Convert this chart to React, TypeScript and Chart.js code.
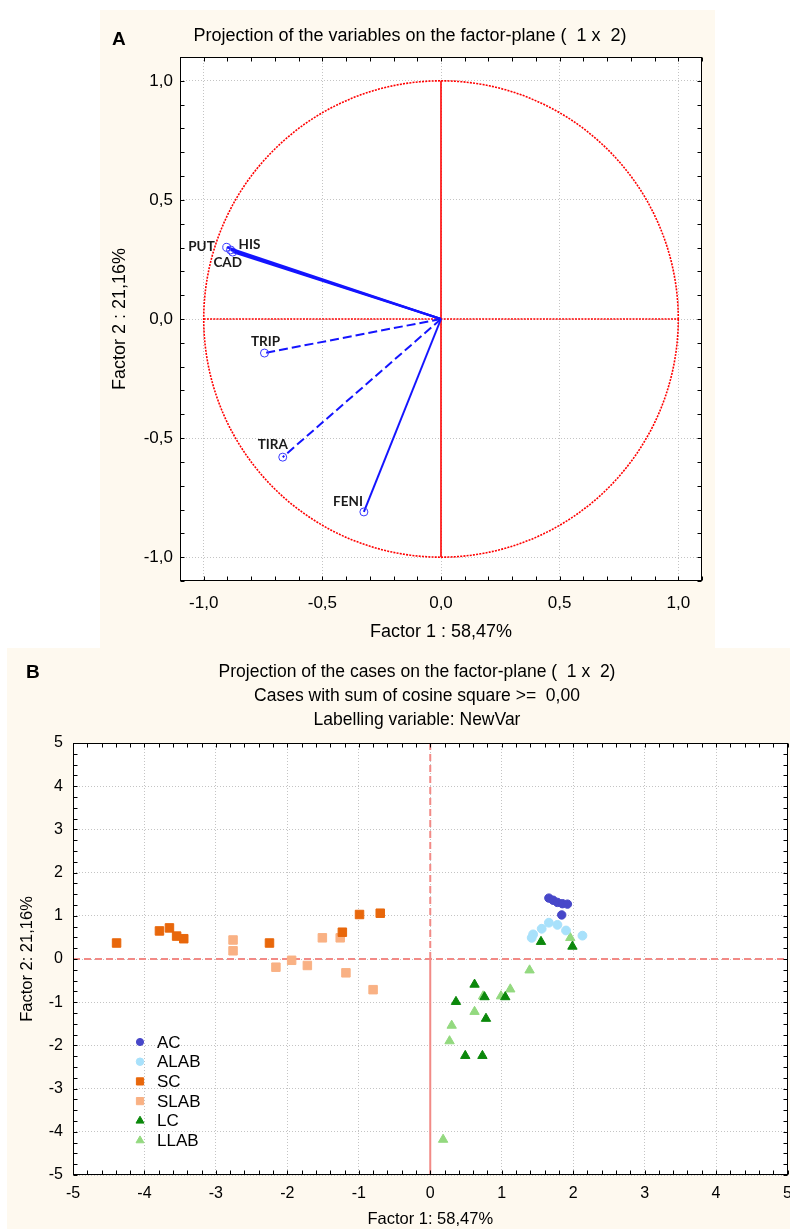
import React, { useEffect, useRef } from 'react';
import { Chart, registerables } from 'chart.js';
import { drawPoint } from 'chart.js/helpers';

Chart.register(...registerables);

// ---------- Panel A data: variable loadings ----------
const VAR_LABELS = ['PUT', 'HIS', 'CAD', 'TRIP', 'TIRA', 'FENI'];
const VAR_FACTOR1 = [-0.903, -0.887, -0.878, -0.744, -0.667, -0.325];
const VAR_FACTOR2 = [0.301, 0.29, 0.281, -0.143, -0.58, -0.81];
const VAR_DASHED = [false, false, false, true, true, false];
const A_TICKS = [-1.0, -0.5, 0.0, 0.5, 1.0];

// ---------- Panel B data: cases ----------
const GROUP_LABELS = ['AC', 'ALAB', 'SC', 'SLAB', 'LC', 'LLAB'];
const AC_F1 = [1.66, 1.72, 1.78, 1.85, 1.92, 1.84];
const AC_F2 = [1.41, 1.36, 1.31, 1.28, 1.27, 1.02];
const ALAB_F1 = [1.66, 1.78, 1.56, 1.9, 1.44, 1.42, 2.13];
const ALAB_F2 = [0.84, 0.79, 0.7, 0.66, 0.57, 0.49, 0.54];
const SC_F1 = [-4.39, -3.79, -3.65, -3.55, -3.45, -2.25, -1.23, -0.99, -0.7];
const SC_F2 = [0.37, 0.65, 0.72, 0.53, 0.47, 0.37, 0.62, 1.03, 1.06];
const SLAB_F1 = [-2.76, -2.76, -2.16, -1.94, -1.72, -1.51, -1.26, -1.18, -0.8];
const SLAB_F2 = [0.44, 0.19, -0.19, -0.03, -0.15, 0.49, 0.49, -0.32, -0.71];
const LC_F1 = [1.55, 1.99, 0.62, 0.36, 0.76, 1.05, 0.78, 0.49, 0.73];
const LC_F2 = [0.4, 0.29, -0.59, -0.99, -0.88, -0.88, -1.38, -2.24, -2.24];
const LLAB_F1 = [1.96, 1.39, 1.12, 0.74, 0.99, 0.62, 0.3, 0.27, 0.18];
const LLAB_F2 = [0.49, -0.26, -0.7, -0.86, -0.86, -1.22, -1.54, -1.9, -4.18];
const B_TICKS = [-5, -4, -3, -2, -1, 0, 1, 2, 3, 4, 5];

const GROUP_F1 = [AC_F1, ALAB_F1, SC_F1, SLAB_F1, LC_F1, LLAB_F1];
const GROUP_F2 = [AC_F2, ALAB_F2, SC_F2, SLAB_F2, LC_F2, LLAB_F2];

// ---------- styles ----------
const FONT = "'Liberation Sans', Arial, sans-serif";
const CREAM = '#fef9ef';
const GROUP_STYLES = [
  { style: 'circle', color: '#4747c9', radius: 4.2 },
  { style: 'circle', color: '#a8e1fb', radius: 4.4 },
  { style: 'rect', color: '#e8670b', radius: 6 },
  { style: 'rect', color: '#f9b184', radius: 6 },
  { style: 'triangle', color: '#0b880b', radius: 5.4 },
  { style: 'triangle', color: '#93d97f', radius: 5.4 },
];
// label offsets (px) relative to the vector end point, with text alignment
const VAR_LABEL_POS: [number, number, CanvasTextAlign][] = [
  [-12, -1, 'right'],
  [8, -5, 'left'],
  [-5, 11, 'center'],
  [1, -11, 'center'],
  [-10, -13, 'center'],
  [-1, -10, 'right'],
];

const fmtA = (v: number) => Number(v).toFixed(1).replace('.', ',');

function fillArea(chart: any) {
  const { ctx, chartArea: ca } = chart;
  ctx.save();
  ctx.fillStyle = '#ffffff';
  ctx.fillRect(ca.left, ca.top, ca.right - ca.left, ca.bottom - ca.top);
  ctx.restore();
}

function drawFrameTicks(chart: any, xStep: number, yStep: number, len: number) {
  const { ctx, chartArea: ca, scales } = chart;
  const x = scales.x;
  const y = scales.y;
  ctx.save();
  ctx.strokeStyle = '#000';
  ctx.lineWidth = 1;
  ctx.setLineDash([]);
  const l = Math.round(ca.left) + 0.5;
  const r = Math.round(ca.right) - 0.5;
  const t = Math.round(ca.top) + 0.5;
  const b = Math.round(ca.bottom) - 0.5;
  ctx.strokeRect(l, t, r - l, b - t);
  ctx.beginPath();
  const nx = Math.round((x.max - x.min) / xStep);
  for (let i = 0; i <= nx; i++) {
    const px = Math.round(x.getPixelForValue(x.min + i * xStep)) + 0.5;
    ctx.moveTo(px, t);
    ctx.lineTo(px, t + len);
    ctx.moveTo(px, b);
    ctx.lineTo(px, b - len);
  }
  const ny = Math.round((y.max - y.min) / yStep);
  for (let i = 0; i <= ny; i++) {
    const py = Math.round(y.getPixelForValue(y.min + i * yStep)) + 0.5;
    ctx.moveTo(l, py);
    ctx.lineTo(l + len, py);
    ctx.moveTo(r, py);
    ctx.lineTo(r - len, py);
  }
  ctx.stroke();
  ctx.restore();
}

const panelAPlugin = {
  id: 'panelA',
  beforeDraw(chart: any) {
    fillArea(chart);
  },
  beforeDatasetsDraw(chart: any) {
    const { ctx, scales } = chart;
    const x = scales.x;
    const y = scales.y;
    const cx = x.getPixelForValue(0);
    const cy = y.getPixelForValue(0);
    const rx = x.getPixelForValue(1) - cx;
    const ry = cy - y.getPixelForValue(1);
    ctx.save();
    ctx.strokeStyle = '#ff0000';
    ctx.lineWidth = 1.6;
    ctx.setLineDash([2, 1.2]);
    ctx.beginPath();
    ctx.ellipse(cx, cy, rx, ry, 0, 0, Math.PI * 2);
    ctx.stroke();
    ctx.beginPath();
    ctx.moveTo(x.getPixelForValue(-1), cy);
    ctx.lineTo(x.getPixelForValue(1), cy);
    ctx.stroke();
    ctx.setLineDash([]);
    ctx.beginPath();
    ctx.moveTo(cx, y.getPixelForValue(1));
    ctx.lineTo(cx, y.getPixelForValue(-1));
    ctx.stroke();
    ctx.restore();
  },
  afterDraw(chart: any) {
    const { ctx, scales } = chart;
    drawFrameTicks(chart, 0.1, 0.1, 4);
    ctx.save();
    ctx.fillStyle = '#1a1a1a';
    ctx.font = "bold 13.5px Lato, 'Open Sans', sans-serif";
    ctx.textBaseline = 'middle';
    VAR_LABELS.forEach((name, i) => {
      const px = scales.x.getPixelForValue(VAR_FACTOR1[i]);
      const py = scales.y.getPixelForValue(VAR_FACTOR2[i]);
      const [dx, dy, al] = VAR_LABEL_POS[i];
      ctx.textAlign = al;
      ctx.fillText(name, px + dx, py + dy);
    });
    ctx.fillStyle = '#000';
    ctx.textAlign = 'center';
    ctx.font = `18px ${FONT}`;
    ctx.fillText('Projection of the variables on the factor-plane (  1 x  2)', 310, 26);
    ctx.textAlign = 'left';
    ctx.font = `bold 19px ${FONT}`;
    ctx.fillText('A', 12, 30);
    ctx.restore();
  },
};

const panelBPlugin = {
  id: 'panelB',
  beforeDraw(chart: any) {
    fillArea(chart);
  },
  beforeDatasetsDraw(chart: any) {
    const { ctx, chartArea: ca, scales } = chart;
    const cx = scales.x.getPixelForValue(0);
    const cy = scales.y.getPixelForValue(0);
    ctx.save();
    ctx.strokeStyle = '#f28a86';
    ctx.lineWidth = 2;
    ctx.setLineDash([7, 4]);
    ctx.beginPath();
    ctx.moveTo(ca.left, cy);
    ctx.lineTo(ca.right, cy);
    ctx.stroke();
    ctx.beginPath();
    ctx.moveTo(cx, ca.top);
    ctx.lineTo(cx, cy);
    ctx.stroke();
    ctx.setLineDash([]);
    ctx.beginPath();
    ctx.moveTo(cx, cy);
    ctx.lineTo(cx, ca.bottom);
    ctx.stroke();
    ctx.restore();
  },
  afterDraw(chart: any) {
    const { ctx, chartArea: ca } = chart;
    drawFrameTicks(chart, 0.2, 0.25, 4);
    ctx.save();
    // legend
    const lx = ca.left + 67;
    const ly = 394;
    chart.data.datasets.forEach((ds: any, i: number) => {
      const st = GROUP_STYLES[i];
      const yy = ly + i * 19.7;
      ctx.fillStyle = st.color;
      ctx.strokeStyle = st.color;
      ctx.lineWidth = 1;
      drawPoint(ctx, { pointStyle: st.style, radius: st.radius * 0.85, rotation: 0, borderWidth: 1 } as any, lx, yy);
      ctx.fillStyle = '#000';
      ctx.font = `17px ${FONT}`;
      ctx.textAlign = 'left';
      ctx.textBaseline = 'middle';
      ctx.fillText(ds.label, lx + 17, yy + 1);
    });
    // titles
    ctx.fillStyle = '#000';
    ctx.textAlign = 'center';
    ctx.textBaseline = 'middle';
    ctx.font = `17.5px ${FONT}`;
    ctx.fillText('Projection of the cases on the factor-plane (  1 x  2)', 410, 24);
    ctx.fillText('Cases with sum of cosine square >=  0,00', 410, 48);
    ctx.fillText('Labelling variable: NewVar', 410, 72);
    ctx.textAlign = 'left';
    ctx.font = `bold 19px ${FONT}`;
    ctx.fillText('B', 19, 25);
    ctx.restore();
  },
};

export default function App() {
  const refA = useRef<HTMLCanvasElement | null>(null);
  const refB = useRef<HTMLCanvasElement | null>(null);

  useEffect(() => {
    const tickFontA = { family: FONT, size: 17 };
    const titleFontA = { family: FONT, size: 18 };
    const tickFontB = { family: FONT, size: 16 };
    const titleFontB = { family: FONT, size: 16.5 };
    const chartA = new Chart(refA.current as HTMLCanvasElement, {
      type: 'scatter',
      data: {
        datasets: VAR_LABELS.map((name, i) => ({
          label: name,
          data: [
            { x: 0, y: 0 },
            { x: VAR_FACTOR1[i], y: VAR_FACTOR2[i] },
          ],
          showLine: true,
          borderColor: '#1414ff',
          borderWidth: 2,
          borderDash: VAR_DASHED[i] ? [9, 4] : [],
          pointRadius: [0, 4],
          pointHoverRadius: 0,
          pointBorderColor: '#3a3aff',
          pointBackgroundColor: 'rgba(0,0,0,0)',
          pointBorderWidth: 1,
        })),
      } as any,
      options: {
        responsive: false,
        animation: false,
        events: [],
        layout: { autoPadding: false, padding: { top: 47, right: 13, left: 0, bottom: 0 } },
        plugins: { legend: { display: false }, tooltip: { enabled: false } },
        scales: {
          x: {
            type: 'linear',
            min: -1.1,
            max: 1.1,
            afterBuildTicks: (s: any) => {
              s.ticks = A_TICKS.map((v) => ({ value: v }));
            },
            afterFit: (s: any) => {
              s.height = 67;
              s.paddingLeft = 0;
              s.paddingRight = 0;
            },
            ticks: { callback: (v: any) => fmtA(v), font: tickFontA, color: '#000', padding: 12, maxRotation: 0, autoSkip: false },
            grid: { color: '#c4c4c4', lineWidth: 1, drawTicks: false },
            border: { display: false, dash: [1, 2] },
            title: { display: true, text: 'Factor 1 : 58,47%', font: titleFontA, color: '#000', padding: { top: 0, bottom: 5 } },
          },
          y: {
            type: 'linear',
            min: -1.1,
            max: 1.1,
            afterBuildTicks: (s: any) => {
              s.ticks = A_TICKS.map((v) => ({ value: v }));
            },
            afterFit: (s: any) => {
              s.width = 80;
              s.paddingTop = 0;
              s.paddingBottom = 0;
            },
            ticks: { callback: (v: any) => fmtA(v), font: tickFontA, color: '#000', padding: 7, autoSkip: false },
            grid: { color: '#c4c4c4', lineWidth: 1, drawTicks: false },
            border: { display: false, dash: [1, 2] },
            title: { display: true, text: 'Factor 2 : 21,16%', font: titleFontA, color: '#000', padding: { top: 9, bottom: 0 } },
          },
        },
      } as any,
      plugins: [panelAPlugin],
    });

    const chartB = new Chart(refB.current as HTMLCanvasElement, {
      type: 'scatter',
      data: {
        datasets: GROUP_LABELS.map((name, g) => ({
          label: name,
          data: GROUP_F1[g].map((v, k) => ({ x: v, y: GROUP_F2[g][k] })),
          pointStyle: GROUP_STYLES[g].style,
          pointRadius: GROUP_STYLES[g].radius,
          pointHoverRadius: GROUP_STYLES[g].radius,
          backgroundColor: GROUP_STYLES[g].color,
          borderColor: GROUP_STYLES[g].color,
          pointBorderWidth: 1,
        })),
      } as any,
      options: {
        responsive: false,
        animation: false,
        events: [],
        layout: { autoPadding: false, padding: { top: 95, right: 2.5, left: 0, bottom: 0 } },
        plugins: { legend: { display: false }, tooltip: { enabled: false } },
        scales: {
          x: {
            type: 'linear',
            min: -5,
            max: 5,
            afterBuildTicks: (s: any) => {
              s.ticks = B_TICKS.map((v) => ({ value: v }));
            },
            afterFit: (s: any) => {
              s.height = 54;
              s.paddingLeft = 0;
              s.paddingRight = 0;
            },
            ticks: { callback: (v: any) => String(v), font: tickFontB, color: '#000', padding: 9, maxRotation: 0, autoSkip: false },
            grid: { color: '#c4c4c4', lineWidth: 1, drawTicks: false },
            border: { display: false, dash: [1, 2] },
            title: { display: true, text: 'Factor 1: 58,47%', font: titleFontB, color: '#000', padding: { top: 0, bottom: 0 } },
          },
          y: {
            type: 'linear',
            min: -5,
            max: 5,
            afterBuildTicks: (s: any) => {
              s.ticks = B_TICKS.map((v) => ({ value: v }));
            },
            afterFit: (s: any) => {
              s.width = 66;
              s.paddingTop = 0;
              s.paddingBottom = 0;
            },
            ticks: { callback: (v: any) => String(v), font: tickFontB, color: '#000', padding: 10, autoSkip: false },
            grid: { color: '#c4c4c4', lineWidth: 1, drawTicks: false },
            border: { display: false, dash: [1, 2] },
            title: { display: true, text: 'Factor 2: 21,16%', font: titleFontB, color: '#000', padding: { top: 11, bottom: 0 } },
          },
        },
      } as any,
      plugins: [panelBPlugin],
    });

    return () => {
      chartA.destroy();
      chartB.destroy();
    };
  }, []);

  return (
    <div style={{ position: 'absolute', left: 0, top: 0, width: 790, height: 1229, background: '#fff', overflow: 'hidden' }}>
      <div style={{ position: 'absolute', left: 100, top: 10, width: 615, height: 638, background: CREAM }}>
        <canvas ref={refA} width={615} height={638} style={{ display: 'block' }} />
      </div>
      <div style={{ position: 'absolute', left: 7, top: 648, width: 783, height: 581, background: CREAM }}>
        <canvas ref={refB} width={783} height={581} style={{ display: 'block' }} />
      </div>
    </div>
  );
}
